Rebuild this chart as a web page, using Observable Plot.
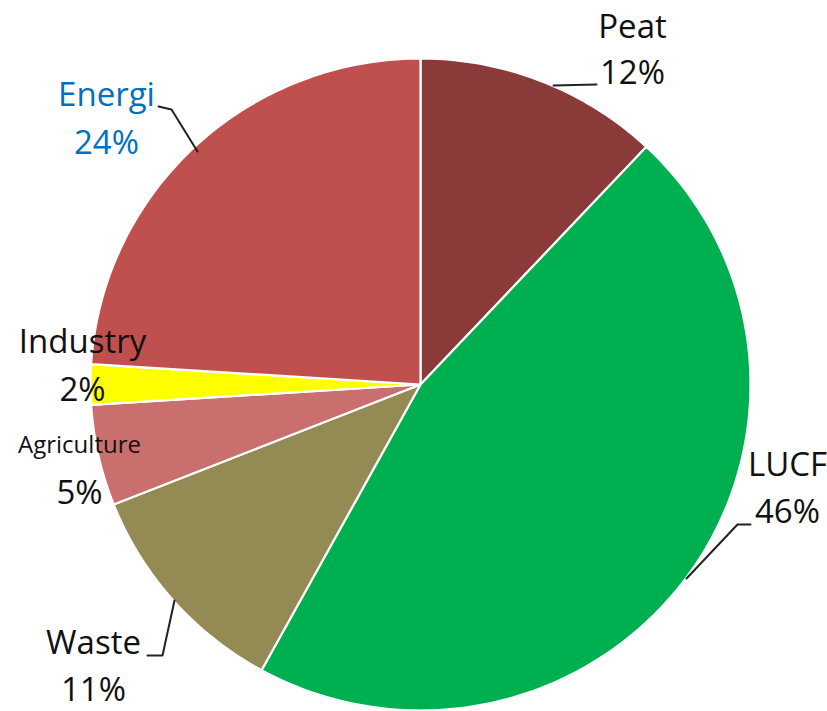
<!DOCTYPE html>
<html>
<head>
<meta charset="utf-8">
<script src="https://cdn.jsdelivr.net/npm/d3@7"></script>
<script src="https://cdn.jsdelivr.net/npm/@observablehq/plot@0.6"></script>
<style>
  html, body { margin: 0; padding: 0; background: #fff; }
  #chart svg { display: block; }
</style>
</head>
<body>
<div id="chart"></div>
<script>
// ---- data ----
const categories = ["Peat", "LUCF", "Waste", "Agriculture", "Industry", "Energi"];
const values = [12, 46, 11, 5, 2, 24];
const percentLabels = ["12%", "46%", "11%", "5%", "2%", "24%"];
const colors = ["#8B3A3A", "#00B050", "#948A54", "#C9706F", "#FFFF00", "#C0504D"];

// ---- layout (pixel-like units through linear scales) ----
const pie = { cx: 420, cy: 384, rx: 330, ry: 326 };
const labelLayout = {
  Peat:        { x: 632, nameY: 37,  pctY: 83,  size: 33, color: "#111" },
  LUCF:        { x: 787, nameY: 475, pctY: 522, size: 33, color: "#111" },
  Waste:       { x: 93,  nameY: 653, pctY: 700, size: 33, color: "#111" },
  Agriculture: { x: 79,  nameY: 452, pctY: 503, size: 24, pctSize: 33, color: "#111" },
  Industry:    { x: 82,  nameY: 352, pctY: 400, size: 33, color: "#111" },
  Energi:      { x: 106, nameY: 105, pctY: 153, size: 33, color: "#0070C0" }
};
const leaders = {
  Peat:   [[553, 85], [596, 84]],
  LUCF:   [[686, 578], [737, 524], [750, 524]],
  Waste:  [[147, 655], [162, 655], [174, 600]],
  Energi: [[158, 106], [171, 109], [197, 151]]
};

// ---- build slice polygons ----
const total = d3.sum(values);
const slices = [];
let acc = 0;
categories.forEach((name, i) => {
  const a0 = acc / total * 2 * Math.PI;
  acc += values[i];
  const a1 = acc / total * 2 * Math.PI;
  slices.push({ name, px: pie.cx, py: pie.cy });
  const steps = Math.max(4, Math.ceil((a1 - a0) / (Math.PI / 180)));
  for (let k = 0; k <= steps; k++) {
    const a = a0 + (a1 - a0) * k / steps;
    slices.push({ name, px: pie.cx + pie.rx * Math.sin(a), py: pie.cy - pie.ry * Math.cos(a) });
  }
});

const labelRows = categories.map((name, i) => ({ name, pct: percentLabels[i], ...labelLayout[name] }));
const leaderRows = Object.entries(leaders).flatMap(([name, pts]) => pts.map(([px, py]) => ({ name, px, py })));

const chart = Plot.plot({
  width: 827,
  height: 711,
  margin: 0,
  x: { domain: [0, 827], range: [0, 827], axis: null },
  y: { domain: [0, 711], range: [0, 711], axis: null },
  color: { domain: categories, range: colors },
  style: { fontFamily: "'Open Sans', sans-serif", background: "#fff" },
  marks: [
    Plot.line(slices, {
      x: "px", y: "py", z: "name", fill: "name",
      stroke: "white", strokeWidth: 2.2, strokeLinejoin: "round",
      curve: "linear-closed"
    }),
    Plot.line(leaderRows, {
      x: "px", y: "py", z: "name", stroke: "#222", strokeWidth: 2
    }),
    ...labelRows.map(r => Plot.text([r], {
      x: "x", y: "nameY", text: "name", textAnchor: "middle", lineAnchor: "bottom",
      fontSize: r.size, fill: r.color
    })),
    ...labelRows.map(r => Plot.text([r], {
      x: "x", y: "pctY", text: "pct", textAnchor: "middle", lineAnchor: "bottom",
      fontSize: r.pctSize || r.size, fill: r.color
    }))
  ]
});
document.getElementById("chart").appendChild(chart);
</script>
</body>
</html>
